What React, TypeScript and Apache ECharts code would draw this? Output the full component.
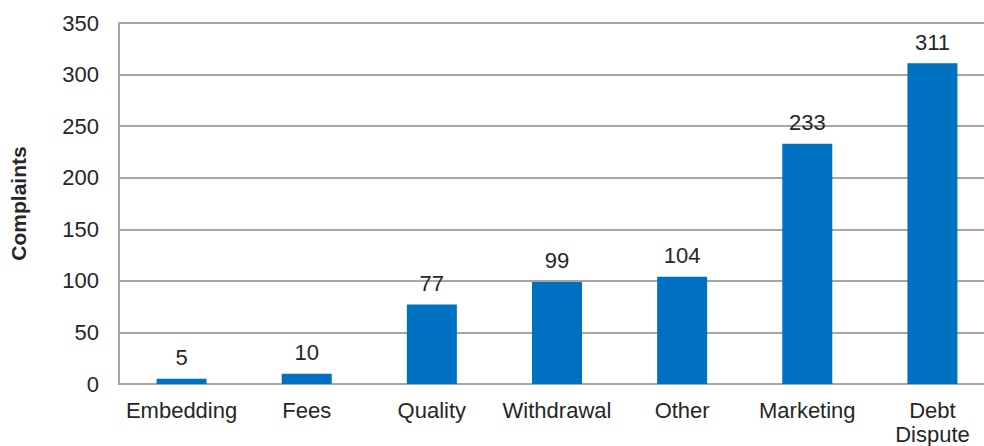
import React, { useEffect, useRef } from "react";
import * as echarts from "echarts";

const categories = ["Embedding", "Fees", "Quality", "Withdrawal", "Other", "Marketing", "Debt\nDispute"];
const complaints = [5, 10, 77, 99, 104, 233, 311];
const yTicks = { min: 0, max: 350, interval: 50 };

export default function App() {
  const ref = useRef<HTMLDivElement>(null);
  useEffect(() => {
    const chart = echarts.init(ref.current!, null, { renderer: "svg" });
    const font = "Liberation Sans, Arial, sans-serif";
    chart.setOption({
      animation: false,
      grid: { left: 119, top: 23, width: 876, height: 363 },
      xAxis: {
        type: "category",
        data: categories,
        axisLine: { show: true, lineStyle: { color: "#A6A6A6", width: 2 } },
        axisTick: { show: false },
        axisLabel: { color: "#262626", fontSize: 22, fontFamily: font, margin: 14, lineHeight: 24, interval: 0 },
      },
      yAxis: {
        type: "value",
        min: yTicks.min,
        max: yTicks.max,
        interval: yTicks.interval,
        name: "Complaints",
        nameLocation: "middle",
        nameGap: 90,
        nameTextStyle: { color: "#262626", fontSize: 21, fontWeight: "bold", fontFamily: font },
        axisLine: { show: true, lineStyle: { color: "#A6A6A6", width: 2 } },
        axisTick: { show: false },
        axisLabel: { color: "#262626", fontSize: 22, fontFamily: font, margin: 20 },
        splitLine: { show: true, lineStyle: { color: "#A6A6A6", width: 2 } },
      },
      series: [
        {
          type: "bar",
          data: complaints,
          barWidth: 50,
          itemStyle: { color: "#0070C0" },
          label: { show: true, position: "top", distance: 10, color: "#262626", fontSize: 22, fontFamily: font },
        },
      ],
    });
    return () => chart.dispose();
  }, []);
  return (
    <div style={{ position: "absolute", left: 0, top: 0, width: 984, height: 446, overflow: "hidden" }}>
      <div ref={ref} style={{ width: 1000, height: 446 }} />
    </div>
  );
}
